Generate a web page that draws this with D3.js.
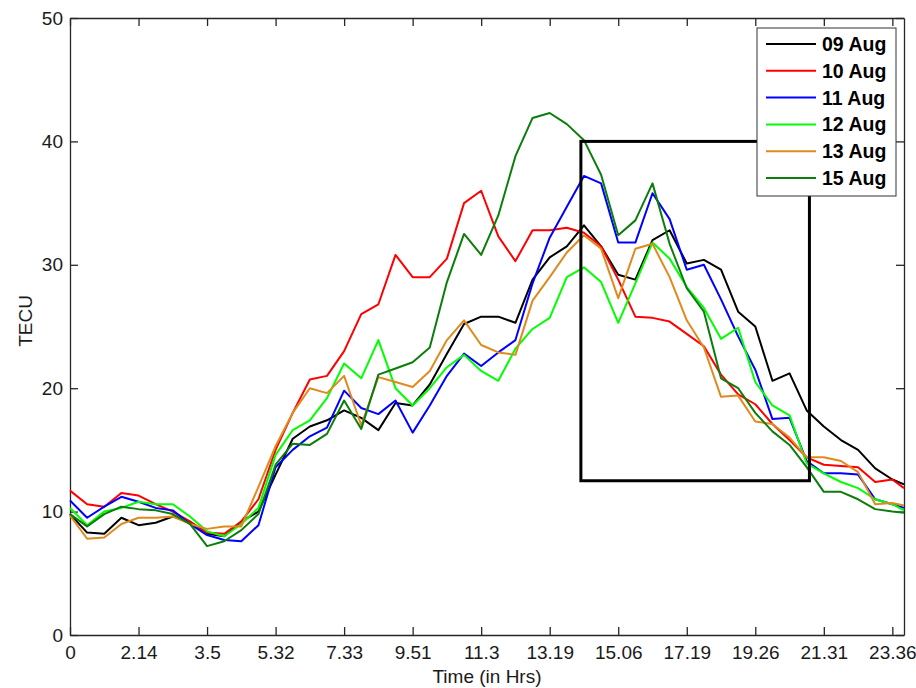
<!DOCTYPE html>
<head>
  <meta charset="utf-8">
  <title>TECU</title>
  <style>
    body{
      margin: 0;
      background: #fff;
      font-family: "Liberation Sans", Arial, sans-serif;
    }
    .ax text{
      font-size: 19px;
      fill: #1a1a1a;
    }
    .ax line, .ax path{
      stroke: #262626;
      stroke-width: 1.3;
    }
  </style>
</head>
<body>
  <div id="container"></div>
  <script src="https://cdn.jsdelivr.net/npm/d3@7"></script>
  <script>
  // x is measured in tick steps (the axis labels are evenly spaced, not evenly valued)
  var tickLabels = ["0","2.14","3.5","5.32","7.33","9.51","11.3","13.19","15.06","17.19","19.26","21.31","23.36"];
  var sampleT = [0,0.25,0.5,0.75,1,1.25,1.5,1.75,2,2.25,2.5,2.75,3,3.25,3.5,3.75,4,4.25,4.5,4.75,
                 5,5.25,5.5,5.75,6,6.25,6.5,6.75,7,7.25,7.5,7.75,8,8.25,8.5,8.75,9,9.25,9.5,9.75,
                 10,10.25,10.5,10.75,11,11.25,11.5,11.75,12,12.17];

  var aug09 = [9.8,8.3,8.2,9.5,8.9,9.1,9.6,9.2,8.2,8.0,9.2,10.0,13.0,15.9,16.9,17.4,18.2,17.6,16.6,18.8,
               18.6,20.3,22.8,25.2,25.8,25.8,25.3,28.8,30.6,31.5,33.2,31.5,29.2,28.8,32.0,32.8,30.1,30.4,29.6,26.2,
               25.0,20.6,21.2,18.2,16.9,15.8,15.0,13.5,12.6,12.2];
  var aug10 = [11.7,10.6,10.4,11.5,11.3,10.6,10.0,9.2,8.3,8.2,9.2,11.0,15.0,18.0,20.7,21.0,23.0,26.0,26.8,30.8,
               29.0,29.0,30.5,35.0,36.0,32.3,30.3,32.8,32.8,33.0,32.6,31.5,28.8,25.8,25.7,25.4,24.4,23.4,21.1,19.5,
               18.7,17.1,15.8,14.4,13.8,13.7,13.6,12.4,12.6,11.9];
  var aug11 = [10.9,9.5,10.4,11.2,10.8,10.3,10.1,9.0,8.1,7.7,7.6,8.9,13.6,15.0,16.1,16.8,19.8,18.4,17.9,19.0,
               16.4,18.6,21.0,22.8,21.8,22.9,23.9,28.5,32.2,34.7,37.2,36.6,31.8,31.8,35.8,33.7,29.6,30.0,27.2,24.2,
               21.5,17.5,17.6,14.1,13.1,13.1,13.0,11.0,10.6,10.3];
  var aug12 = [10.3,8.9,10.0,10.3,10.8,10.6,10.6,9.6,8.4,8.0,9.0,10.3,14.6,16.6,17.4,19.2,22.0,20.8,23.9,20.0,
               18.6,20.0,21.7,22.7,21.4,20.6,23.2,24.8,25.7,29.0,29.8,28.6,25.3,28.5,31.8,30.5,28.2,26.5,24.0,24.9,
               20.5,18.6,17.8,13.9,13.1,12.4,11.9,11.0,10.6,10.1];
  var aug13 = [9.7,7.8,7.9,9.0,9.5,9.5,9.6,9.0,8.6,8.8,8.8,12.0,15.3,18.0,20.0,19.6,21.0,17.0,20.9,20.5,
               20.1,21.4,23.9,25.5,23.5,22.9,22.7,27.1,29.0,31.0,32.4,31.3,27.3,31.3,31.7,29.0,25.5,23.3,19.3,19.4,
               17.3,17.1,16.0,14.4,14.4,14.1,13.2,10.6,10.7,10.5];
  var aug15 = [9.8,8.8,9.8,10.4,10.2,10.1,9.8,9.0,7.2,7.6,8.5,9.8,13.8,15.5,15.4,16.3,19.0,16.7,21.1,21.6,
               22.1,23.3,28.6,32.5,30.8,34.0,38.8,41.9,42.3,41.4,40.1,37.3,32.4,33.6,36.6,31.7,28.1,26.2,20.8,20.0,
               18.0,16.5,15.4,13.6,11.6,11.6,11.0,10.2,10.0,9.9];

  var seriesNames = ["09 Aug","10 Aug","11 Aug","12 Aug","13 Aug","15 Aug"];
  var seriesValues = [aug09, aug10, aug11, aug12, aug13, aug15];
  var seriesColors = ["#000000","#ff0000","#0000ff","#00ff00","#df8a1f","#0b7d0b"];

  // highlighted window [t0, t1] x [v0, v1]
  var boxT = [7.455, 10.79];
  var boxV = [12.5, 40];

  var margin = {top: 18, right: 12, bottom: 53, left: 70},
      width = 916 - margin.left - margin.right,
      height = 688 - margin.top - margin.bottom;

  var svg = d3.select("#container").append("svg")
      .attr("width", 916)
      .attr("height", 688);

  var g = svg.append("g")
      .attr("transform", "translate(" + margin.left + "," + margin.top + ")");

  var xScale = d3.scaleLinear().domain([0, 12.17]).range([0, width]);
  var yScale = d3.scaleLinear().domain([0, 50]).range([height, 0]);

  var tickIdx = d3.range(tickLabels.length);

  var xAxis = d3.axisBottom(xScale).tickValues(tickIdx)
      .tickFormat(function(d){ return tickLabels[d]; })
      .tickSizeInner(-8).tickSizeOuter(0).tickPadding(11);
  var xTop = d3.axisTop(xScale).tickValues(tickIdx).tickFormat("")
      .tickSizeInner(-8).tickSizeOuter(0);
  var yAxis = d3.axisLeft(yScale).ticks(5).tickSizeInner(-8).tickSizeOuter(0).tickPadding(7);
  var yRight = d3.axisRight(yScale).ticks(5).tickFormat("").tickSizeInner(-8).tickSizeOuter(0);

  g.append("g").attr("class","ax").attr("transform","translate(0," + height + ")").call(xAxis);
  g.append("g").attr("class","ax").call(xTop);
  g.append("g").attr("class","ax").call(yAxis);
  g.append("g").attr("class","ax").attr("transform","translate(" + width + ",0)").call(yRight);

  var line = d3.line()
      .x(function(d, i){ return xScale(sampleT[i]); })
      .y(function(d){ return yScale(d); });

  for(var s = 0; s < seriesValues.length; s++){
    g.append("path")
      .datum(seriesValues[s])
      .attr("d", line)
      .attr("fill","none")
      .attr("stroke", seriesColors[s])
      .attr("stroke-width", 2)
      .attr("stroke-linejoin","round");
  }

  // legend
  var lg = svg.append("g").attr("transform","translate(757,28)");
  lg.append("rect")
    .attr("width", 139).attr("height", 168)
    .attr("fill","#fff").attr("stroke","#333").attr("stroke-width",1);
  for(var k = 0; k < seriesNames.length; k++){
    var ly = 16 + k * 26.8;
    lg.append("line")
      .attr("x1", 9).attr("x2", 59).attr("y1", ly).attr("y2", ly)
      .attr("stroke", seriesColors[k]).attr("stroke-width", 2);
    lg.append("text")
      .text(seriesNames[k])
      .attr("x", 65).attr("y", ly + 7)
      .style("font-size","19.5px")
      .style("font-weight","bold")
      .attr("fill","#000");
  }

  // highlight box (drawn over the legend, as in the figure)
  g.append("rect")
    .attr("x", xScale(boxT[0]))
    .attr("y", yScale(boxV[1]))
    .attr("width", xScale(boxT[1]) - xScale(boxT[0]))
    .attr("height", yScale(boxV[0]) - yScale(boxV[1]))
    .attr("fill","none")
    .attr("stroke","#000")
    .attr("stroke-width",3);

  svg.append("text")
    .text("Time (in Hrs)")
    .attr("x", margin.left + width / 2)
    .attr("y", 683)
    .attr("text-anchor","middle")
    .style("font-size","19px")
    .attr("fill","#1a1a1a");

  svg.append("text")
    .text("TECU")
    .attr("transform","translate(32,321) rotate(-90)")
    .attr("text-anchor","middle")
    .style("font-size","19px")
    .attr("fill","#1a1a1a");
  </script>
</body>
</html>
